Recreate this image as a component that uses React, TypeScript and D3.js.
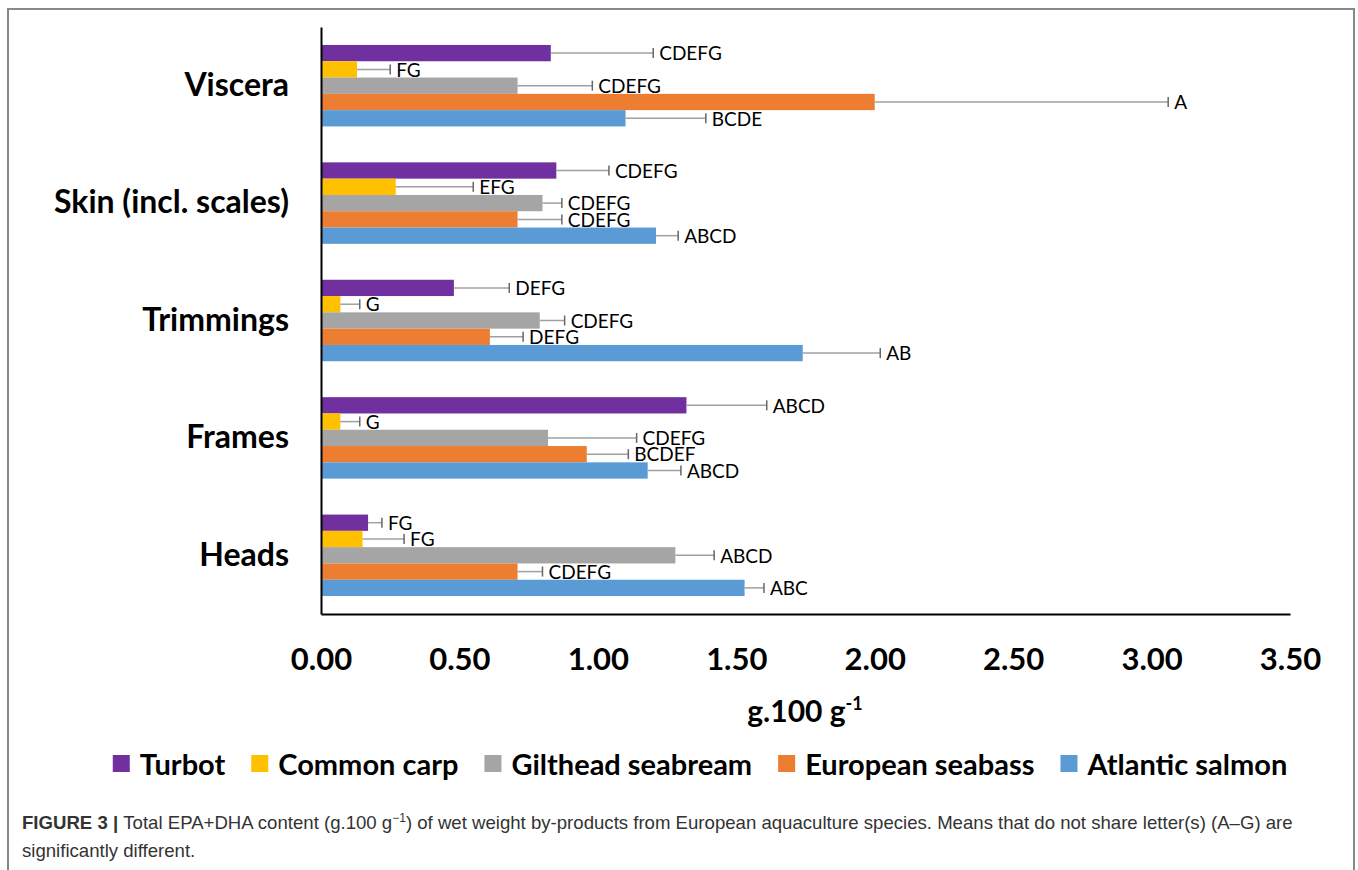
import * as d3 from 'd3';
import { useEffect, useRef } from 'react';

const width = 1358;
const height = 870;
const marginLeft = 321;
const plotRight = 1290;
const plotTop = 27;
const plotBottom = 614;

const categories = ['Viscera', 'Skin (incl. scales)', 'Trimmings', 'Frames', 'Heads'];
const species = ['Turbot', 'Common carp', 'Gilthead seabream', 'European seabass', 'Atlantic salmon'];
const colors = ['#7030A0', '#FFC000', '#A5A5A5', '#ED7D31', '#5B9BD5'];

// mean EPA+DHA per species, in category order
const turbotMean = [0.83, 0.85, 0.48, 1.32, 0.17];
const carpMean = [0.13, 0.27, 0.07, 0.07, 0.15];
const seabreamMean = [0.71, 0.8, 0.79, 0.82, 1.28];
const seabassMean = [2.0, 0.71, 0.61, 0.96, 0.71];
const salmonMean = [1.1, 1.21, 1.74, 1.18, 1.53];

// error (upper only)
const turbotErr = [0.37, 0.19, 0.2, 0.29, 0.05];
const carpErr = [0.12, 0.28, 0.07, 0.07, 0.15];
const seabreamErr = [0.27, 0.07, 0.09, 0.32, 0.14];
const seabassErr = [1.06, 0.16, 0.12, 0.15, 0.09];
const salmonErr = [0.29, 0.08, 0.28, 0.12, 0.07];

// significance letters
const turbotLetters = ['CDEFG', 'CDEFG', 'DEFG', 'ABCD', 'FG'];
const carpLetters = ['FG', 'EFG', 'G', 'G', 'FG'];
const seabreamLetters = ['CDEFG', 'CDEFG', 'CDEFG', 'CDEFG', 'ABCD'];
const seabassLetters = ['A', 'CDEFG', 'DEFG', 'BCDEF', 'CDEFG'];
const salmonLetters = ['BCDE', 'ABCD', 'AB', 'ABCD', 'ABC'];

const xTicks = [0, 0.5, 1, 1.5, 2, 2.5, 3, 3.5];

const means = [turbotMean, carpMean, seabreamMean, seabassMean, salmonMean];
const errs = [turbotErr, carpErr, seabreamErr, seabassErr, salmonErr];
const letters = [turbotLetters, carpLetters, seabreamLetters, seabassLetters, salmonLetters];

const labelFont = 'Lato, "Open Sans", sans-serif';
const captionFont = '"Liberation Sans", Arial, sans-serif';

export default function App() {
  const ref = useRef<SVGSVGElement>(null);

  useEffect(() => {
    if (!ref.current) return;
    const svg = d3.select(ref.current);
    svg.selectAll('*').remove();

    // outer frame
    svg
      .append('rect')
      .attr('x', 8)
      .attr('y', 9)
      .attr('width', 1346)
      .attr('height', height + 10)
      .attr('fill', 'none')
      .attr('stroke', '#888')
      .attr('stroke-width', 2);

    const x = d3.scaleLinear().domain([0, 3.5]).range([marginLeft, plotRight]);
    const y = d3
      .scaleBand<string>()
      .domain(categories)
      .range([plotTop, plotBottom])
      .paddingInner(0.306)
      .paddingOuter(0.153);
    const ys = d3.scaleBand<string>().domain(species).range([0, y.bandwidth()]);

    const rows = categories.flatMap((cat, ci) =>
      species.map((sp, si) => ({
        cat,
        sp,
        si,
        v: means[si][ci],
        e: errs[si][ci],
        label: letters[si][ci],
      }))
    );

    const g = svg.append('g');
    g.selectAll('rect')
      .data(rows)
      .join('rect')
      .attr('x', x(0))
      .attr('y', (d) => y(d.cat)! + ys(d.sp)!)
      .attr('width', (d) => x(d.v) - x(0))
      .attr('height', ys.bandwidth())
      .attr('fill', (d) => colors[d.si]);

    const cy = (d: (typeof rows)[number]) => y(d.cat)! + ys(d.sp)! + ys.bandwidth() / 2;

    // error bars
    g.selectAll('line.err')
      .data(rows)
      .join('line')
      .attr('class', 'err')
      .attr('x1', (d) => x(d.v))
      .attr('x2', (d) => x(d.v + d.e))
      .attr('y1', cy)
      .attr('y2', cy)
      .attr('stroke', '#A0A0A0')
      .attr('stroke-width', 1.5);
    g.selectAll('line.cap')
      .data(rows)
      .join('line')
      .attr('class', 'cap')
      .attr('x1', (d) => x(d.v + d.e))
      .attr('x2', (d) => x(d.v + d.e))
      .attr('y1', (d) => cy(d) - 5)
      .attr('y2', (d) => cy(d) + 5)
      .attr('stroke', '#666')
      .attr('stroke-width', 1.5);

    g.selectAll('text.lab')
      .data(rows)
      .join('text')
      .attr('class', 'lab')
      .attr('x', (d) => x(d.v + d.e) + 6)
      .attr('y', cy)
      .attr('dy', '0.38em')
      .attr('font-family', labelFont)
      .attr('font-size', 19)
      .attr('fill', '#000')
      .text((d) => d.label);

    // x axis
    const xAxis = svg
      .append('g')
      .attr('transform', `translate(0,${plotBottom})`)
      .call(
        d3
          .axisBottom(x)
          .tickValues(xTicks)
          .tickSize(0)
          .tickSizeOuter(0)
          .tickPadding(34)
          .tickFormat((d) => d3.format('.2f')(d as number))
      );
    xAxis.select('.domain').attr('stroke', '#000').attr('stroke-width', 2);
    xAxis
      .selectAll('text')
      .attr('font-family', labelFont)
      .attr('font-weight', 'bold')
      .attr('font-size', 31)
      .attr('fill', '#000');

    // y axis
    const yAxis = svg
      .append('g')
      .attr('transform', `translate(${marginLeft},0)`)
      .call(d3.axisLeft(y).tickSize(0).tickSizeOuter(0).tickPadding(32));
    yAxis.select('.domain').attr('stroke', '#000').attr('stroke-width', 2);
    yAxis
      .selectAll('text')
      .attr('font-family', labelFont)
      .attr('font-weight', 'bold')
      .attr('font-size', 32)
      .attr('fill', '#000');

    // axis title
    const title = svg
      .append('text')
      .attr('x', 805)
      .attr('y', 722)
      .attr('text-anchor', 'middle')
      .attr('font-family', labelFont)
      .attr('font-weight', 'bold')
      .attr('font-size', 30);
    title.append('tspan').text('g.100 g');
    title.append('tspan').attr('font-size', 18).attr('dy', -12).text('-1');

    // legend
    const legend = svg.append('g');
    const items = legend.selectAll('g').data(species).join('g');
    items
      .append('rect')
      .attr('width', 17)
      .attr('height', 17)
      .attr('y', 755)
      .attr('fill', (_, i) => colors[i]);
    items
      .append('text')
      .attr('x', 27)
      .attr('y', 775)
      .attr('font-family', labelFont)
      .attr('font-weight', 'bold')
      .attr('font-size', 29)
      .attr('fill', '#000')
      .text((d) => d);
    const widths = items
      .nodes()
      .map((n) => 27 + (n.querySelector('text') as SVGTextElement).getComputedTextLength());
    const gap = 26;
    const total = d3.sum(widths) + gap * (widths.length - 1);
    let cx = 700 - total / 2;
    items.attr('transform', (_, i) => {
      const t = `translate(${cx},0)`;
      cx += widths[i] + gap;
      return t;
    });

    // caption
    const cap1 = svg
      .append('text')
      .attr('x', 22)
      .attr('y', 829)
      .attr('font-family', captionFont)
      .attr('font-size', 18.6)
      .attr('fill', '#333');
    cap1.append('tspan').attr('font-weight', 'bold').text('FIGURE 3 | ');
    cap1.append('tspan').text('Total EPA+DHA content (g.100 g');
    cap1.append('tspan').attr('font-size', 12).attr('dy', -7).text('−1');
    cap1
      .append('tspan')
      .attr('dy', 7)
      .text(
        ') of wet weight by-products from European aquaculture species. Means that do not share letter(s) (A–G) are'
      );
    svg
      .append('text')
      .attr('x', 22)
      .attr('y', 857)
      .attr('font-family', captionFont)
      .attr('font-size', 18.6)
      .attr('fill', '#333')
      .text('significantly different.');
  }, []);

  return (
    <svg
      ref={ref}
      width={width}
      height={height}
      style={{ position: 'absolute', left: 0, top: 0, background: '#fff' }}
    />
  );
}
